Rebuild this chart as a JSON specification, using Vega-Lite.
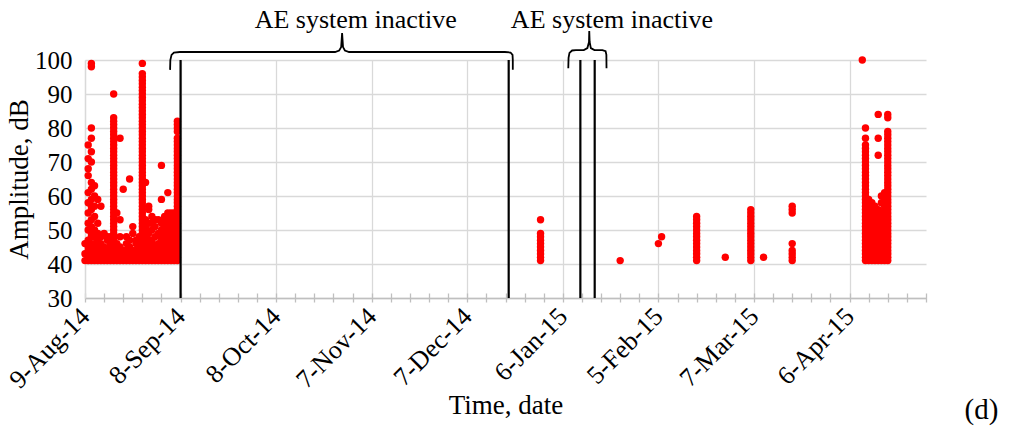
{
"$schema": "https://vega.github.io/schema/vega-lite/v6.json",
"width": 841, "height": 238,
"autosize": {"type": "none"},
"padding": {"left": 85, "top": 60, "right": 87, "bottom": 136},
"background": "white",
"config": {"font": "Liberation Serif", "view": {"stroke": null}},
"datasets": {
"ae": [
{"date":"2014-08-09","amp":41},{"date":"2014-08-09","amp":43},{"date":"2014-08-09","amp":46},
{"date":"2014-08-10","amp":41},{"date":"2014-08-10","amp":42},{"date":"2014-08-10","amp":44},{"date":"2014-08-10","amp":45},{"date":"2014-08-10","amp":47},{"date":"2014-08-10","amp":50},{"date":"2014-08-10","amp":52},{"date":"2014-08-10","amp":55},{"date":"2014-08-10","amp":58},{"date":"2014-08-10","amp":61},{"date":"2014-08-10","amp":66},{"date":"2014-08-10","amp":68},{"date":"2014-08-10","amp":71},{"date":"2014-08-10","amp":75},
{"date":"2014-08-11","amp":41},{"date":"2014-08-11","amp":42},{"date":"2014-08-11","amp":43},{"date":"2014-08-11","amp":45},{"date":"2014-08-11","amp":46},{"date":"2014-08-11","amp":48},{"date":"2014-08-11","amp":49},{"date":"2014-08-11","amp":51},{"date":"2014-08-11","amp":53},{"date":"2014-08-11","amp":56},{"date":"2014-08-11","amp":57},{"date":"2014-08-11","amp":59},{"date":"2014-08-11","amp":62},{"date":"2014-08-11","amp":64},{"date":"2014-08-11","amp":70},{"date":"2014-08-11","amp":73},{"date":"2014-08-11","amp":77},{"date":"2014-08-11","amp":80},{"date":"2014-08-11","amp":98},{"date":"2014-08-11","amp":99},
{"date":"2014-08-12","amp":41},{"date":"2014-08-12","amp":43},{"date":"2014-08-12","amp":44},{"date":"2014-08-12","amp":46},{"date":"2014-08-12","amp":48},{"date":"2014-08-12","amp":50},{"date":"2014-08-12","amp":54},{"date":"2014-08-12","amp":57},{"date":"2014-08-12","amp":60},{"date":"2014-08-12","amp":63},
{"date":"2014-08-13","amp":41},{"date":"2014-08-13","amp":42},{"date":"2014-08-13","amp":44},{"date":"2014-08-13","amp":45},{"date":"2014-08-13","amp":47},{"date":"2014-08-13","amp":49},{"date":"2014-08-13","amp":52},{"date":"2014-08-13","amp":59},
{"date":"2014-08-14","amp":41},{"date":"2014-08-14","amp":43},{"date":"2014-08-14","amp":44},{"date":"2014-08-14","amp":46},{"date":"2014-08-14","amp":48},{"date":"2014-08-14","amp":57},
{"date":"2014-08-15","amp":41},{"date":"2014-08-15","amp":42},{"date":"2014-08-15","amp":44},{"date":"2014-08-15","amp":45},{"date":"2014-08-15","amp":49},
{"date":"2014-08-16","amp":41},{"date":"2014-08-16","amp":43},{"date":"2014-08-16","amp":44},{"date":"2014-08-16","amp":47},{"date":"2014-08-16","amp":48},
{"date":"2014-08-17","amp":41},{"date":"2014-08-17","amp":42},{"date":"2014-08-17","amp":43},{"date":"2014-08-17","amp":45},{"date":"2014-08-17","amp":46},{"date":"2014-08-17","amp":48},
{"date":"2014-08-18","amp":41},{"date":"2014-08-18","amp":42},{"date":"2014-08-18","amp":43},{"date":"2014-08-18","amp":44},{"date":"2014-08-18","amp":45},{"date":"2014-08-18","amp":46},{"date":"2014-08-18","amp":47},{"date":"2014-08-18","amp":48},{"date":"2014-08-18","amp":49},{"date":"2014-08-18","amp":50},{"date":"2014-08-18","amp":51},{"date":"2014-08-18","amp":52},{"date":"2014-08-18","amp":53},{"date":"2014-08-18","amp":54},{"date":"2014-08-18","amp":55},{"date":"2014-08-18","amp":56},{"date":"2014-08-18","amp":57},{"date":"2014-08-18","amp":58},{"date":"2014-08-18","amp":59},{"date":"2014-08-18","amp":60},{"date":"2014-08-18","amp":61},{"date":"2014-08-18","amp":62},{"date":"2014-08-18","amp":63},{"date":"2014-08-18","amp":64},{"date":"2014-08-18","amp":65},{"date":"2014-08-18","amp":66},{"date":"2014-08-18","amp":67},{"date":"2014-08-18","amp":68},{"date":"2014-08-18","amp":69},{"date":"2014-08-18","amp":70},{"date":"2014-08-18","amp":71},{"date":"2014-08-18","amp":72},{"date":"2014-08-18","amp":73},{"date":"2014-08-18","amp":74},{"date":"2014-08-18","amp":75},{"date":"2014-08-18","amp":76},{"date":"2014-08-18","amp":77},{"date":"2014-08-18","amp":78},{"date":"2014-08-18","amp":79},{"date":"2014-08-18","amp":80},{"date":"2014-08-18","amp":81},{"date":"2014-08-18","amp":82},{"date":"2014-08-18","amp":83},{"date":"2014-08-18","amp":90},
{"date":"2014-08-19","amp":41},{"date":"2014-08-19","amp":42},{"date":"2014-08-19","amp":44},{"date":"2014-08-19","amp":46},{"date":"2014-08-19","amp":55},
{"date":"2014-08-20","amp":41},{"date":"2014-08-20","amp":43},{"date":"2014-08-20","amp":45},{"date":"2014-08-20","amp":48},{"date":"2014-08-20","amp":53},{"date":"2014-08-20","amp":77},
{"date":"2014-08-21","amp":41},{"date":"2014-08-21","amp":42},{"date":"2014-08-21","amp":44},{"date":"2014-08-21","amp":62},
{"date":"2014-08-22","amp":41},{"date":"2014-08-22","amp":43},{"date":"2014-08-22","amp":44},{"date":"2014-08-22","amp":46},{"date":"2014-08-22","amp":48},
{"date":"2014-08-23","amp":41},{"date":"2014-08-23","amp":42},{"date":"2014-08-23","amp":45},{"date":"2014-08-23","amp":47},{"date":"2014-08-23","amp":65},
{"date":"2014-08-24","amp":41},{"date":"2014-08-24","amp":43},{"date":"2014-08-24","amp":44},{"date":"2014-08-24","amp":49},{"date":"2014-08-24","amp":51},
{"date":"2014-08-25","amp":41},{"date":"2014-08-25","amp":42},{"date":"2014-08-25","amp":44},{"date":"2014-08-25","amp":46},{"date":"2014-08-25","amp":47},
{"date":"2014-08-26","amp":41},{"date":"2014-08-26","amp":43},{"date":"2014-08-26","amp":45},{"date":"2014-08-26","amp":48},
{"date":"2014-08-27","amp":41},{"date":"2014-08-27","amp":42},{"date":"2014-08-27","amp":43},{"date":"2014-08-27","amp":44},{"date":"2014-08-27","amp":45},{"date":"2014-08-27","amp":46},{"date":"2014-08-27","amp":47},{"date":"2014-08-27","amp":48},{"date":"2014-08-27","amp":49},{"date":"2014-08-27","amp":50},{"date":"2014-08-27","amp":51},{"date":"2014-08-27","amp":52},{"date":"2014-08-27","amp":53},{"date":"2014-08-27","amp":54},{"date":"2014-08-27","amp":55},{"date":"2014-08-27","amp":56},{"date":"2014-08-27","amp":57},{"date":"2014-08-27","amp":58},{"date":"2014-08-27","amp":59},{"date":"2014-08-27","amp":60},{"date":"2014-08-27","amp":61},{"date":"2014-08-27","amp":62},{"date":"2014-08-27","amp":63},{"date":"2014-08-27","amp":64},{"date":"2014-08-27","amp":65},{"date":"2014-08-27","amp":66},{"date":"2014-08-27","amp":67},{"date":"2014-08-27","amp":68},{"date":"2014-08-27","amp":69},{"date":"2014-08-27","amp":70},{"date":"2014-08-27","amp":71},{"date":"2014-08-27","amp":72},{"date":"2014-08-27","amp":73},{"date":"2014-08-27","amp":74},{"date":"2014-08-27","amp":75},{"date":"2014-08-27","amp":76},{"date":"2014-08-27","amp":77},{"date":"2014-08-27","amp":78},{"date":"2014-08-27","amp":79},{"date":"2014-08-27","amp":80},{"date":"2014-08-27","amp":81},{"date":"2014-08-27","amp":82},{"date":"2014-08-27","amp":83},{"date":"2014-08-27","amp":84},{"date":"2014-08-27","amp":85},{"date":"2014-08-27","amp":86},{"date":"2014-08-27","amp":87},{"date":"2014-08-27","amp":88},{"date":"2014-08-27","amp":89},{"date":"2014-08-27","amp":90},{"date":"2014-08-27","amp":91},{"date":"2014-08-27","amp":92},{"date":"2014-08-27","amp":93},{"date":"2014-08-27","amp":94},{"date":"2014-08-27","amp":95},{"date":"2014-08-27","amp":96},{"date":"2014-08-27","amp":99},
{"date":"2014-08-28","amp":41},{"date":"2014-08-28","amp":43},{"date":"2014-08-28","amp":44},{"date":"2014-08-28","amp":46},{"date":"2014-08-28","amp":48},{"date":"2014-08-28","amp":50},{"date":"2014-08-28","amp":51},{"date":"2014-08-28","amp":53},{"date":"2014-08-28","amp":64},
{"date":"2014-08-29","amp":41},{"date":"2014-08-29","amp":42},{"date":"2014-08-29","amp":44},{"date":"2014-08-29","amp":45},{"date":"2014-08-29","amp":47},{"date":"2014-08-29","amp":49},{"date":"2014-08-29","amp":52},{"date":"2014-08-29","amp":56},{"date":"2014-08-29","amp":57},
{"date":"2014-08-30","amp":41},{"date":"2014-08-30","amp":43},{"date":"2014-08-30","amp":44},{"date":"2014-08-30","amp":46},{"date":"2014-08-30","amp":47},{"date":"2014-08-30","amp":50},{"date":"2014-08-30","amp":52},{"date":"2014-08-30","amp":54},
{"date":"2014-08-31","amp":41},{"date":"2014-08-31","amp":42},{"date":"2014-08-31","amp":44},{"date":"2014-08-31","amp":45},{"date":"2014-08-31","amp":48},{"date":"2014-08-31","amp":51},{"date":"2014-08-31","amp":53},
{"date":"2014-09-01","amp":41},{"date":"2014-09-01","amp":43},{"date":"2014-09-01","amp":44},{"date":"2014-09-01","amp":46},{"date":"2014-09-01","amp":49},{"date":"2014-09-01","amp":53},
{"date":"2014-09-02","amp":41},{"date":"2014-09-02","amp":42},{"date":"2014-09-02","amp":44},{"date":"2014-09-02","amp":45},{"date":"2014-09-02","amp":47},{"date":"2014-09-02","amp":48},{"date":"2014-09-02","amp":50},{"date":"2014-09-02","amp":52},{"date":"2014-09-02","amp":59},{"date":"2014-09-02","amp":69},
{"date":"2014-09-03","amp":41},{"date":"2014-09-03","amp":43},{"date":"2014-09-03","amp":44},{"date":"2014-09-03","amp":46},{"date":"2014-09-03","amp":47},{"date":"2014-09-03","amp":49},{"date":"2014-09-03","amp":51},{"date":"2014-09-03","amp":53},{"date":"2014-09-03","amp":54},
{"date":"2014-09-04","amp":41},{"date":"2014-09-04","amp":42},{"date":"2014-09-04","amp":44},{"date":"2014-09-04","amp":45},{"date":"2014-09-04","amp":47},{"date":"2014-09-04","amp":48},{"date":"2014-09-04","amp":50},{"date":"2014-09-04","amp":52},{"date":"2014-09-04","amp":54},{"date":"2014-09-04","amp":55},{"date":"2014-09-04","amp":61},
{"date":"2014-09-05","amp":41},{"date":"2014-09-05","amp":43},{"date":"2014-09-05","amp":44},{"date":"2014-09-05","amp":46},{"date":"2014-09-05","amp":47},{"date":"2014-09-05","amp":49},{"date":"2014-09-05","amp":51},{"date":"2014-09-05","amp":53},{"date":"2014-09-05","amp":55},
{"date":"2014-09-06","amp":41},{"date":"2014-09-06","amp":42},{"date":"2014-09-06","amp":44},{"date":"2014-09-06","amp":45},{"date":"2014-09-06","amp":47},{"date":"2014-09-06","amp":48},{"date":"2014-09-06","amp":50},{"date":"2014-09-06","amp":52},{"date":"2014-09-06","amp":54},{"date":"2014-09-06","amp":55},
{"date":"2014-09-07","amp":41},{"date":"2014-09-07","amp":42},{"date":"2014-09-07","amp":43},{"date":"2014-09-07","amp":44},{"date":"2014-09-07","amp":45},{"date":"2014-09-07","amp":46},{"date":"2014-09-07","amp":47},{"date":"2014-09-07","amp":48},{"date":"2014-09-07","amp":49},{"date":"2014-09-07","amp":50},{"date":"2014-09-07","amp":51},{"date":"2014-09-07","amp":52},{"date":"2014-09-07","amp":53},{"date":"2014-09-07","amp":54},{"date":"2014-09-07","amp":55},{"date":"2014-09-07","amp":56},{"date":"2014-09-07","amp":57},{"date":"2014-09-07","amp":58},{"date":"2014-09-07","amp":59},{"date":"2014-09-07","amp":60},{"date":"2014-09-07","amp":61},{"date":"2014-09-07","amp":62},{"date":"2014-09-07","amp":63},{"date":"2014-09-07","amp":64},{"date":"2014-09-07","amp":65},{"date":"2014-09-07","amp":66},{"date":"2014-09-07","amp":67},{"date":"2014-09-07","amp":68},{"date":"2014-09-07","amp":69},{"date":"2014-09-07","amp":70},{"date":"2014-09-07","amp":71},{"date":"2014-09-07","amp":72},{"date":"2014-09-07","amp":73},{"date":"2014-09-07","amp":74},{"date":"2014-09-07","amp":75},{"date":"2014-09-07","amp":76},{"date":"2014-09-07","amp":77},{"date":"2014-09-07","amp":79},{"date":"2014-09-07","amp":80},{"date":"2014-09-07","amp":81},{"date":"2014-09-07","amp":82},
{"date":"2014-12-30","amp":41},{"date":"2014-12-30","amp":42},{"date":"2014-12-30","amp":43},{"date":"2014-12-30","amp":44},{"date":"2014-12-30","amp":45},{"date":"2014-12-30","amp":46},{"date":"2014-12-30","amp":47},{"date":"2014-12-30","amp":48},{"date":"2014-12-30","amp":49},{"date":"2014-12-30","amp":53},
{"date":"2015-01-24","amp":41},
{"date":"2015-02-05","amp":46},
{"date":"2015-02-06","amp":48},
{"date":"2015-02-17","amp":41},{"date":"2015-02-17","amp":42},{"date":"2015-02-17","amp":43},{"date":"2015-02-17","amp":44},{"date":"2015-02-17","amp":45},{"date":"2015-02-17","amp":46},{"date":"2015-02-17","amp":47},{"date":"2015-02-17","amp":48},{"date":"2015-02-17","amp":49},{"date":"2015-02-17","amp":50},{"date":"2015-02-17","amp":51},{"date":"2015-02-17","amp":52},{"date":"2015-02-17","amp":53},{"date":"2015-02-17","amp":54},
{"date":"2015-02-26","amp":42},
{"date":"2015-03-06","amp":41},{"date":"2015-03-06","amp":42},{"date":"2015-03-06","amp":43},{"date":"2015-03-06","amp":44},{"date":"2015-03-06","amp":45},{"date":"2015-03-06","amp":46},{"date":"2015-03-06","amp":47},{"date":"2015-03-06","amp":48},{"date":"2015-03-06","amp":49},{"date":"2015-03-06","amp":50},{"date":"2015-03-06","amp":51},{"date":"2015-03-06","amp":52},{"date":"2015-03-06","amp":53},{"date":"2015-03-06","amp":54},{"date":"2015-03-06","amp":55},{"date":"2015-03-06","amp":56},
{"date":"2015-03-10","amp":42},
{"date":"2015-03-19","amp":41},{"date":"2015-03-19","amp":42},{"date":"2015-03-19","amp":43},{"date":"2015-03-19","amp":44},{"date":"2015-03-19","amp":46},{"date":"2015-03-19","amp":55},{"date":"2015-03-19","amp":56},{"date":"2015-03-19","amp":57},
{"date":"2015-04-10","amp":100},
{"date":"2015-04-11","amp":41},{"date":"2015-04-11","amp":42},{"date":"2015-04-11","amp":43},{"date":"2015-04-11","amp":44},{"date":"2015-04-11","amp":45},{"date":"2015-04-11","amp":46},{"date":"2015-04-11","amp":47},{"date":"2015-04-11","amp":48},{"date":"2015-04-11","amp":49},{"date":"2015-04-11","amp":50},{"date":"2015-04-11","amp":51},{"date":"2015-04-11","amp":52},{"date":"2015-04-11","amp":53},{"date":"2015-04-11","amp":54},{"date":"2015-04-11","amp":55},{"date":"2015-04-11","amp":56},{"date":"2015-04-11","amp":57},{"date":"2015-04-11","amp":58},{"date":"2015-04-11","amp":59},{"date":"2015-04-11","amp":60},{"date":"2015-04-11","amp":61},{"date":"2015-04-11","amp":62},{"date":"2015-04-11","amp":63},{"date":"2015-04-11","amp":64},{"date":"2015-04-11","amp":65},{"date":"2015-04-11","amp":66},{"date":"2015-04-11","amp":67},{"date":"2015-04-11","amp":68},{"date":"2015-04-11","amp":69},{"date":"2015-04-11","amp":70},{"date":"2015-04-11","amp":71},{"date":"2015-04-11","amp":72},{"date":"2015-04-11","amp":73},{"date":"2015-04-11","amp":74},{"date":"2015-04-11","amp":75},{"date":"2015-04-11","amp":77},{"date":"2015-04-11","amp":80},
{"date":"2015-04-12","amp":41},{"date":"2015-04-12","amp":42},{"date":"2015-04-12","amp":43},{"date":"2015-04-12","amp":44},{"date":"2015-04-12","amp":45},{"date":"2015-04-12","amp":46},{"date":"2015-04-12","amp":47},{"date":"2015-04-12","amp":48},{"date":"2015-04-12","amp":49},{"date":"2015-04-12","amp":50},{"date":"2015-04-12","amp":51},{"date":"2015-04-12","amp":52},{"date":"2015-04-12","amp":53},{"date":"2015-04-12","amp":54},{"date":"2015-04-12","amp":55},{"date":"2015-04-12","amp":56},{"date":"2015-04-12","amp":57},{"date":"2015-04-12","amp":58},{"date":"2015-04-12","amp":59},
{"date":"2015-04-13","amp":41},{"date":"2015-04-13","amp":42},{"date":"2015-04-13","amp":43},{"date":"2015-04-13","amp":44},{"date":"2015-04-13","amp":45},{"date":"2015-04-13","amp":46},{"date":"2015-04-13","amp":47},{"date":"2015-04-13","amp":48},{"date":"2015-04-13","amp":49},{"date":"2015-04-13","amp":50},{"date":"2015-04-13","amp":51},{"date":"2015-04-13","amp":52},{"date":"2015-04-13","amp":53},{"date":"2015-04-13","amp":54},{"date":"2015-04-13","amp":55},{"date":"2015-04-13","amp":56},{"date":"2015-04-13","amp":57},{"date":"2015-04-13","amp":58},
{"date":"2015-04-14","amp":41},{"date":"2015-04-14","amp":42},{"date":"2015-04-14","amp":43},{"date":"2015-04-14","amp":44},{"date":"2015-04-14","amp":45},{"date":"2015-04-14","amp":46},{"date":"2015-04-14","amp":47},{"date":"2015-04-14","amp":48},{"date":"2015-04-14","amp":49},{"date":"2015-04-14","amp":50},{"date":"2015-04-14","amp":51},{"date":"2015-04-14","amp":52},{"date":"2015-04-14","amp":53},{"date":"2015-04-14","amp":54},{"date":"2015-04-14","amp":55},{"date":"2015-04-14","amp":56},{"date":"2015-04-14","amp":57},
{"date":"2015-04-15","amp":41},{"date":"2015-04-15","amp":42},{"date":"2015-04-15","amp":44},{"date":"2015-04-15","amp":45},{"date":"2015-04-15","amp":46},{"date":"2015-04-15","amp":49},{"date":"2015-04-15","amp":50},{"date":"2015-04-15","amp":51},{"date":"2015-04-15","amp":52},{"date":"2015-04-15","amp":53},{"date":"2015-04-15","amp":56},{"date":"2015-04-15","amp":72},{"date":"2015-04-15","amp":77},{"date":"2015-04-15","amp":84},
{"date":"2015-04-16","amp":41},{"date":"2015-04-16","amp":42},{"date":"2015-04-16","amp":43},{"date":"2015-04-16","amp":44},{"date":"2015-04-16","amp":45},{"date":"2015-04-16","amp":46},{"date":"2015-04-16","amp":47},{"date":"2015-04-16","amp":48},{"date":"2015-04-16","amp":49},{"date":"2015-04-16","amp":50},{"date":"2015-04-16","amp":51},{"date":"2015-04-16","amp":52},{"date":"2015-04-16","amp":53},{"date":"2015-04-16","amp":54},{"date":"2015-04-16","amp":55},{"date":"2015-04-16","amp":58},{"date":"2015-04-16","amp":60},
{"date":"2015-04-17","amp":41},{"date":"2015-04-17","amp":42},{"date":"2015-04-17","amp":43},{"date":"2015-04-17","amp":44},{"date":"2015-04-17","amp":45},{"date":"2015-04-17","amp":46},{"date":"2015-04-17","amp":47},{"date":"2015-04-17","amp":48},{"date":"2015-04-17","amp":49},{"date":"2015-04-17","amp":50},{"date":"2015-04-17","amp":51},{"date":"2015-04-17","amp":52},{"date":"2015-04-17","amp":53},{"date":"2015-04-17","amp":54},{"date":"2015-04-17","amp":55},{"date":"2015-04-17","amp":56},{"date":"2015-04-17","amp":57},{"date":"2015-04-17","amp":58},{"date":"2015-04-17","amp":59},{"date":"2015-04-17","amp":60},{"date":"2015-04-17","amp":61},
{"date":"2015-04-18","amp":41},{"date":"2015-04-18","amp":42},{"date":"2015-04-18","amp":43},{"date":"2015-04-18","amp":44},{"date":"2015-04-18","amp":45},{"date":"2015-04-18","amp":46},{"date":"2015-04-18","amp":47},{"date":"2015-04-18","amp":48},{"date":"2015-04-18","amp":49},{"date":"2015-04-18","amp":50},{"date":"2015-04-18","amp":51},{"date":"2015-04-18","amp":52},{"date":"2015-04-18","amp":53},{"date":"2015-04-18","amp":54},{"date":"2015-04-18","amp":55},{"date":"2015-04-18","amp":56},{"date":"2015-04-18","amp":57},{"date":"2015-04-18","amp":58},{"date":"2015-04-18","amp":59},{"date":"2015-04-18","amp":60},{"date":"2015-04-18","amp":61},{"date":"2015-04-18","amp":62},{"date":"2015-04-18","amp":63},{"date":"2015-04-18","amp":64},{"date":"2015-04-18","amp":65},{"date":"2015-04-18","amp":66},{"date":"2015-04-18","amp":67},{"date":"2015-04-18","amp":68},{"date":"2015-04-18","amp":69},{"date":"2015-04-18","amp":70},{"date":"2015-04-18","amp":71},{"date":"2015-04-18","amp":72},{"date":"2015-04-18","amp":73},{"date":"2015-04-18","amp":74},{"date":"2015-04-18","amp":75},{"date":"2015-04-18","amp":76},{"date":"2015-04-18","amp":77},{"date":"2015-04-18","amp":78},{"date":"2015-04-18","amp":79},{"date":"2015-04-18","amp":83},{"date":"2015-04-18","amp":84}
],
"gaps": [
{"date":"2014-09-08"},{"date":"2014-12-20"},{"date":"2015-01-11T12:00Z"},{"date":"2015-01-16"}
],
"braces": [
{"brace":1,"i":1,"date":"2014-09-04T17:00Z","amp":97.1},
{"brace":1,"i":2,"date":"2014-09-04T19:00Z","amp":100},
{"brace":1,"i":3,"date":"2014-09-05T04:00Z","amp":101.5},
{"brace":1,"i":4,"date":"2014-09-05T22:00Z","amp":102.2},
{"brace":1,"i":5,"date":"2014-09-07T19:00Z","amp":102.35},
{"brace":1,"i":6,"date":"2014-10-26T12:00Z","amp":102.35},
{"brace":1,"i":7,"date":"2014-10-27T19:00Z","amp":102.8},
{"brace":1,"i":8,"date":"2014-10-28T10:00Z","amp":103.8},
{"brace":1,"i":9,"date":"2014-10-28T17:00Z","amp":107.9},
{"brace":1,"i":10,"date":"2014-10-29T00:00Z","amp":103.8},
{"brace":1,"i":11,"date":"2014-10-29T14:00Z","amp":102.8},
{"brace":1,"i":12,"date":"2014-10-30T22:00Z","amp":102.35},
{"brace":1,"i":13,"date":"2014-12-18T19:00Z","amp":102.35},
{"brace":1,"i":14,"date":"2014-12-20T14:00Z","amp":102.2},
{"brace":1,"i":15,"date":"2014-12-21T05:00Z","amp":101.5},
{"brace":1,"i":16,"date":"2014-12-21T07:00Z","amp":100},
{"brace":1,"i":17,"date":"2014-12-21T07:00Z","amp":97.1},
{"brace":2,"i":1,"date":"2015-01-07T17:00Z","amp":97.6},
{"brace":2,"i":2,"date":"2015-01-07T19:00Z","amp":100.6},
{"brace":2,"i":3,"date":"2015-01-08T02:00Z","amp":102.1},
{"brace":2,"i":4,"date":"2015-01-08T22:00Z","amp":102.8},
{"brace":2,"i":5,"date":"2015-01-10T02:00Z","amp":102.9},
{"brace":2,"i":6,"date":"2015-01-12T14:00Z","amp":102.9},
{"brace":2,"i":7,"date":"2015-01-13T17:00Z","amp":103.5},
{"brace":2,"i":8,"date":"2015-01-14T05:00Z","amp":105.3},
{"brace":2,"i":9,"date":"2015-01-14T07:00Z","amp":108.5},
{"brace":2,"i":10,"date":"2015-01-14T10:00Z","amp":105.3},
{"brace":2,"i":11,"date":"2015-01-14T19:00Z","amp":103.5},
{"brace":2,"i":12,"date":"2015-01-15T22:00Z","amp":102.9},
{"brace":2,"i":13,"date":"2015-01-18T10:00Z","amp":102.9},
{"brace":2,"i":14,"date":"2015-01-19T10:00Z","amp":102.6},
{"brace":2,"i":15,"date":"2015-01-19T16:00Z","amp":101.5},
{"brace":2,"i":16,"date":"2015-01-19T17:00Z","amp":97.6}
],
"notes": [
{"label":"AE system inactive","date":"2014-11-02T00:00Z","amp":111.8},
{"label":"AE system inactive","date":"2015-01-21T10:00Z","amp":111.8}
],
"panel": [
{"label":"(d)","date":"2015-05-17T10:00Z","amp":-2.9}
]
},
"layer": [
{
"data": {"name": "ae"},
"mark": {"type": "circle", "color": "#ff0000", "size": 55, "opacity": 1},
"encoding": {
"x": {"field": "date", "type": "temporal",
 "scale": {"type": "utc", "domain": [{"year": 2014, "month": "aug", "date": 9, "utc": true}, {"year": 2015, "month": "apr", "date": 30, "utc": true}]},
 "axis": {
  "orient": "bottom",
  "values": [
   {"year": 2014, "month": "aug", "date": 9, "utc": true},
   {"year": 2014, "month": "sep", "date": 8, "utc": true},
   {"year": 2014, "month": "oct", "date": 8, "utc": true},
   {"year": 2014, "month": "nov", "date": 7, "utc": true},
   {"year": 2014, "month": "dec", "date": 7, "utc": true},
   {"year": 2015, "month": "jan", "date": 6, "utc": true},
   {"year": 2015, "month": "feb", "date": 5, "utc": true},
   {"year": 2015, "month": "mar", "date": 7, "utc": true},
   {"year": 2015, "month": "apr", "date": 6, "utc": true}
  ],
  "format": "%-d-%b-%y", "labelAngle": -45, "labelAlign": "right", "labelBaseline": "middle", "labelFontSize": 26, "labelColor": "black",
  "labelFlush": false, "labelOverlap": false, "labelBound": false, "labelPadding": 14,
  "ticks": false, "grid": true, "gridColor": "#d9d9d9", "gridWidth": 1.3,
  "domainColor": "#bfbfbf", "domainWidth": 1.3,
  "title": "Time, date", "titleFontSize": 27, "titleFontWeight": "normal", "titleColor": "black", "titlePadding": 0
 }},
"y": {"field": "amp", "type": "quantitative",
 "scale": {"domain": [30, 100], "nice": false, "zero": false},
 "axis": {"values": [30, 40, 50, 60, 70, 80, 90, 100], "grid": true, "gridColor": "#d9d9d9", "gridWidth": 1.3,
  "ticks": false, "domainColor": "#d9d9d9", "domainWidth": 1.3, "labelFontSize": 25, "labelColor": "black", "labelPadding": 13,
  "title": "Amplitude, dB", "titleFontSize": 27, "titleFontWeight": "normal", "titleColor": "black", "titlePadding": 1}}
}
},
{
"data": {"name": "gaps"},
"mark": {"type": "rule", "color": "black", "strokeWidth": 2.2},
"encoding": {
"x": {"field": "date", "type": "temporal",
 "scale": {"type": "utc", "domain": [{"year": 2014, "month": "aug", "date": 9, "utc": true}, {"year": 2015, "month": "apr", "date": 30, "utc": true}]},
 "axis": {
  "orient": "bottom",
  "values": [
   {"year": 2014, "month": "aug", "date": 9, "utc": true},
   {"year": 2014, "month": "aug", "date": 15, "utc": true},
   {"year": 2014, "month": "aug", "date": 21, "utc": true},
   {"year": 2014, "month": "aug", "date": 27, "utc": true},
   {"year": 2014, "month": "sep", "date": 2, "utc": true},
   {"year": 2014, "month": "sep", "date": 8, "utc": true},
   {"year": 2014, "month": "sep", "date": 14, "utc": true},
   {"year": 2014, "month": "sep", "date": 20, "utc": true},
   {"year": 2014, "month": "sep", "date": 26, "utc": true},
   {"year": 2014, "month": "oct", "date": 2, "utc": true},
   {"year": 2014, "month": "oct", "date": 8, "utc": true},
   {"year": 2014, "month": "oct", "date": 14, "utc": true},
   {"year": 2014, "month": "oct", "date": 20, "utc": true},
   {"year": 2014, "month": "oct", "date": 26, "utc": true},
   {"year": 2014, "month": "nov", "date": 1, "utc": true},
   {"year": 2014, "month": "nov", "date": 7, "utc": true},
   {"year": 2014, "month": "nov", "date": 13, "utc": true},
   {"year": 2014, "month": "nov", "date": 19, "utc": true},
   {"year": 2014, "month": "nov", "date": 25, "utc": true},
   {"year": 2014, "month": "dec", "date": 1, "utc": true},
   {"year": 2014, "month": "dec", "date": 7, "utc": true},
   {"year": 2014, "month": "dec", "date": 13, "utc": true},
   {"year": 2014, "month": "dec", "date": 19, "utc": true},
   {"year": 2014, "month": "dec", "date": 25, "utc": true},
   {"year": 2014, "month": "dec", "date": 31, "utc": true},
   {"year": 2015, "month": "jan", "date": 6, "utc": true},
   {"year": 2015, "month": "jan", "date": 12, "utc": true},
   {"year": 2015, "month": "jan", "date": 18, "utc": true},
   {"year": 2015, "month": "jan", "date": 24, "utc": true},
   {"year": 2015, "month": "jan", "date": 30, "utc": true},
   {"year": 2015, "month": "feb", "date": 5, "utc": true},
   {"year": 2015, "month": "feb", "date": 11, "utc": true},
   {"year": 2015, "month": "feb", "date": 17, "utc": true},
   {"year": 2015, "month": "feb", "date": 23, "utc": true},
   {"year": 2015, "month": "mar", "date": 1, "utc": true},
   {"year": 2015, "month": "mar", "date": 7, "utc": true},
   {"year": 2015, "month": "mar", "date": 13, "utc": true},
   {"year": 2015, "month": "mar", "date": 19, "utc": true},
   {"year": 2015, "month": "mar", "date": 25, "utc": true},
   {"year": 2015, "month": "mar", "date": 31, "utc": true},
   {"year": 2015, "month": "apr", "date": 6, "utc": true},
   {"year": 2015, "month": "apr", "date": 12, "utc": true},
   {"year": 2015, "month": "apr", "date": 18, "utc": true},
   {"year": 2015, "month": "apr", "date": 24, "utc": true},
   {"year": 2015, "month": "apr", "date": 30, "utc": true}
  ],
  "labels": false, "grid": false, "domain": false, "ticks": true, "tickSize": 9,
  "tickColor": "#bfbfbf", "tickWidth": 1.3, "offset": -5, "title": null
 }}
}
},
{
"data": {"name": "braces"},
"mark": {"type": "line", "color": "black", "strokeWidth": 1.8, "clip": false},
"encoding": {
"x": {"field": "date", "type": "temporal", "axis": null,
 "scale": {"type": "utc", "domain": [{"year": 2014, "month": "aug", "date": 9, "utc": true}, {"year": 2015, "month": "apr", "date": 30, "utc": true}]}},
"y": {"field": "amp", "type": "quantitative", "axis": null, "scale": {"domain": [30, 100], "nice": false, "zero": false}},
"detail": {"field": "brace", "type": "nominal"},
"order": {"field": "i", "type": "quantitative"}
}
},
{
"data": {"name": "notes"},
"mark": {"type": "text", "fontSize": 26, "font": "Liberation Serif", "color": "black", "align": "center", "baseline": "middle", "clip": false},
"encoding": {
"x": {"field": "date", "type": "temporal", "axis": null,
 "scale": {"type": "utc", "domain": [{"year": 2014, "month": "aug", "date": 9, "utc": true}, {"year": 2015, "month": "apr", "date": 30, "utc": true}]}},
"y": {"field": "amp", "type": "quantitative", "axis": null, "scale": {"domain": [30, 100], "nice": false, "zero": false}},
"text": {"field": "label", "type": "nominal"}
}
},
{
"data": {"name": "panel"},
"mark": {"type": "text", "fontSize": 29, "font": "Liberation Serif", "color": "black", "align": "center", "baseline": "middle", "clip": false},
"encoding": {
"x": {"field": "date", "type": "temporal", "axis": null,
 "scale": {"type": "utc", "domain": [{"year": 2014, "month": "aug", "date": 9, "utc": true}, {"year": 2015, "month": "apr", "date": 30, "utc": true}]}},
"y": {"field": "amp", "type": "quantitative", "axis": null, "scale": {"domain": [30, 100], "nice": false, "zero": false}},
"text": {"field": "label", "type": "nominal"}
}
}
],
"resolve": {"axis": {"x": "independent", "y": "independent"}}
}
